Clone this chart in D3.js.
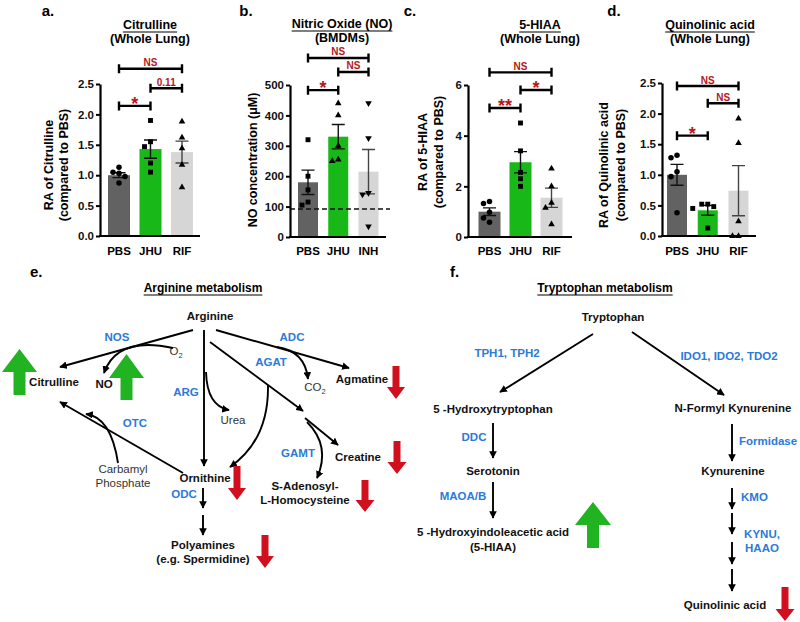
<!DOCTYPE html>
<html>
<head>
<meta charset="utf-8">
<script src="https://cdn.jsdelivr.net/npm/d3@7"></script>
<style>
  body { margin: 0; background: #fff; }
  svg { font-family: Arial, "Liberation Sans", Helvetica, sans-serif; }
</style>
</head>
<body>
<svg id="fig" width="800" height="622"></svg>
<script>
// ---------- data ----------
const citrullineGroups = ['PBS', 'JHU', 'RIF'];
const citrullineMean = [1.0, 1.43, 1.38];
const citrullineSem = [0.04, 0.15, 0.18];
const citrullinePoints = [
  [1.13, 1.05, 1.03, 0.98, 0.87],
  [1.9, 1.55, 1.47, 1.2, 1.05],
  [1.88, 1.62, 1.44, 1.17, 0.8]
];
const citrullineTicks = [0, 0.5, 1.0, 1.5, 2.0, 2.5];
const citrullineSig = [
  { from: 0, to: 1, at: 2.14, text: '*' },
  { from: 1, to: 2, at: 2.43, text: '0.11' },
  { from: 0, to: 2, at: 2.75, text: 'NS' }
];

const noGroups = ['PBS', 'JHU', 'INH'];
const noMean = [180, 330, 215];
const noSem = [40, 40, 73];
const noPoints = [
  [320, 200, 155, 115, 105],
  [440, 400, 300, 255, 250],
  [440, 325, 145, 140, 35]
];
const noTicks = [0, 100, 200, 300, 400, 500];
const noBaseline = 92;
const noSig = [
  { from: 0, to: 1, at: 483, text: '*' },
  { from: 1, to: 2, at: 543, text: 'NS' },
  { from: 0, to: 2, at: 589, text: 'NS' }
];

const hiaaGroups = ['PBS', 'JHU', 'RIF'];
const hiaaMean = [1.0, 2.95, 1.55];
const hiaaSem = [0.15, 0.42, 0.38];
const hiaaPoints = [
  [1.4, 1.32, 0.98, 0.75, 0.58],
  [4.5, 3.4, 2.55, 2.3, 2.0],
  [2.7, 2.0, 1.35, 1.15, 0.5]
];
const hiaaTicks = [0, 2, 4, 6];
const hiaaSig = [
  { from: 0, to: 1, at: 5.09, text: '**' },
  { from: 1, to: 2, at: 5.8, text: '*' },
  { from: 0, to: 2, at: 6.5, text: 'NS' }
];

const quinGroups = ['PBS', 'JHU', 'RIF'];
const quinMean = [1.0, 0.42, 0.74];
const quinSem = [0.17, 0.08, 0.41];
const quinPoints = [
  [1.32, 1.28, 1.05, 0.97, 0.38],
  [0.52, 0.52, 0.48, 0.45, 0.13],
  [1.92, 1.52, 0.24, 0.0, 0.0]
];
const quinTicks = [0, 0.5, 1.0, 1.5, 2.0, 2.5];
const quinSig = [
  { from: 0, to: 1, at: 1.64, text: '*' },
  { from: 1, to: 2, at: 2.17, text: 'NS' },
  { from: 0, to: 2, at: 2.45, text: 'NS' }
];

// ---------- styles ----------
const barColors = ['#626262', '#17b817', '#d6d6d6'];
const sigRed = '#b3191c';
const enzBlue = '#2b7ad9';
const upGreen = '#22b322';
const downRed = '#d0101e';

const svg = d3.select('#fig');

// ---------- bar panels ----------
const panels = [
  { tag: 'a.', tagX: 48, title: ['Citrulline', '(Whole Lung)'], titleX: 150, titleY: 29,
    yTitle: ['RA of Citrulline', '(compared to PBS)'], yTitleX: [48, 63], yTitleY: 165,
    groups: citrullineGroups, mean: citrullineMean, sem: citrullineSem, points: citrullinePoints,
    ticks: citrullineTicks, fmt: d3.format('.1f'), sig: citrullineSig, max: 2.5,
    axisX: 100, axisEnd: 200, bottom: 236, top: 84, first: 119, last: 182, barW: 22,
    shapes: ['circle', 'square', 'up'] },
  { tag: 'b.', tagX: 246, title: ['Nitric Oxide (NO)', '(BMDMs)'], titleX: 342, titleY: 28,
    yTitle: ['NO concentration (\u03bcM)'], yTitleX: [252], yTitleY: 160,
    groups: noGroups, mean: noMean, sem: noSem, points: noPoints,
    ticks: noTicks, fmt: d3.format('d'), sig: noSig, max: 500, dashed: noBaseline, dashEnd: 390,
    axisX: 290, axisEnd: 386, bottom: 237, top: 85, first: 308, last: 368.5, barW: 20,
    shapes: ['square', 'up', 'down'] },
  { tag: 'c.', tagX: 410, title: ['5-HIAA', '(Whole Lung)'], titleX: 540, titleY: 29,
    yTitle: ['RA of 5-HIAA', '(compared to PBS)'], yTitleX: [422, 438], yTitleY: 152,
    groups: hiaaGroups, mean: hiaaMean, sem: hiaaSem, points: hiaaPoints,
    ticks: hiaaTicks, fmt: d3.format('d'), sig: hiaaSig, max: 6,
    axisX: 468, axisEnd: 572, bottom: 237, top: 85, first: 489.5, last: 551.5, barW: 22,
    shapes: ['circle', 'square', 'up'] },
  { tag: 'd.', tagX: 614, title: ['Quinolinic acid', '(Whole Lung)'], titleX: 710, titleY: 29,
    yTitle: ['RA of Quinolinic acid', '(compared to PBS)'], yTitleX: [603, 620], yTitleY: 165,
    groups: quinGroups, mean: quinMean, sem: quinSem, points: quinPoints,
    ticks: quinTicks, fmt: d3.format('.1f'), sig: quinSig, max: 2.5,
    axisX: 662, axisEnd: 756, bottom: 236, top: 83, first: 677, last: 738.5, barW: 20,
    shapes: ['circle', 'square', 'up'] }
];

function markerPath(shape) {
  if (shape === 'circle') return d3.symbol(d3.symbolCircle, 24)();
  if (shape === 'square') return d3.symbol(d3.symbolSquare, 24)();
  return d3.symbol(d3.symbolTriangle, 19)();
}

function drawPanel(p) {
  const g = svg.append('g');
  const y = d3.scaleLinear().domain([0, p.max]).range([p.bottom, p.top]);
  const x = d3.scalePoint().domain(p.groups).range([p.first, p.last]);

  // panel tag + title
  g.append('text').attr('x', p.tagX).attr('y', 16).attr('text-anchor', 'middle')
    .attr('font-size', 15).attr('font-weight', 'bold').text(p.tag);
  const t1 = g.append('text').attr('x', p.titleX).attr('y', p.titleY).attr('text-anchor', 'middle')
    .attr('font-size', 12.5).attr('font-weight', 'bold').text(p.title[0]);
  const w1 = t1.node().getComputedTextLength();
  g.append('line').attr('x1', p.titleX - w1 / 2).attr('x2', p.titleX + w1 / 2)
    .attr('y1', p.titleY + 3).attr('y2', p.titleY + 3).attr('stroke', '#000').attr('stroke-width', 1.2);
  g.append('text').attr('x', p.titleX).attr('y', p.titleY + 13.5).attr('text-anchor', 'middle')
    .attr('font-size', 12.5).attr('font-weight', 'bold').text(p.title[1]);

  // y title
  p.yTitle.forEach((s, i) => {
    g.append('text')
      .attr('transform', 'translate(' + (p.yTitleX[i] + 4.5) + ',' + p.yTitleY + ') rotate(-90)')
      .attr('text-anchor', 'middle').attr('font-size', 12.5).attr('font-weight', 'bold').text(s);
  });

  // bars
  g.selectAll('.bar').data(p.groups).enter().append('rect')
    .attr('x', d => x(d) - p.barW / 2).attr('width', p.barW)
    .attr('y', (d, i) => y(p.mean[i])).attr('height', (d, i) => p.bottom - y(p.mean[i]))
    .attr('fill', (d, i) => barColors[i]);

  // dashed reference line
  if (p.dashed !== undefined) {
    g.append('line').attr('x1', p.axisX).attr('x2', p.dashEnd)
      .attr('y1', y(p.dashed)).attr('y2', y(p.dashed))
      .attr('stroke', '#111').attr('stroke-width', 1.5).attr('stroke-dasharray', '5,3');
  }

  // error bars
  p.groups.forEach((grp, i) => {
    const cx = x(grp), hi = y(p.mean[i] + p.sem[i]), lo = y(p.mean[i] - p.sem[i]);
    const col = i === 2 ? '#444' : '#111';
    g.append('path').attr('d', 'M' + cx + ',' + hi + 'V' + lo + 'M' + (cx - 6.5) + ',' + hi + 'H' + (cx + 6.5) +
      'M' + (cx - 6.5) + ',' + lo + 'H' + (cx + 6.5))
      .attr('stroke', col).attr('stroke-width', 1.4).attr('fill', 'none');
  });

  // points, spread sideways when they overlap
  p.groups.forEach((grp, i) => {
    const placed = [];
    p.points[i].forEach(v => {
      const py = y(v);
      const offs = [0, -6, 6, -11, 11, -15, 15];
      let off = 0;
      for (const o of offs) {
        if (placed.every(q => Math.abs(q.py - py) >= 6 || Math.abs(q.off - o) >= 6)) { off = o; break; }
      }
      placed.push({ py, off });
      const rot = p.shapes[i] === 'down' ? ' rotate(180)' : '';
      g.append('path').attr('d', markerPath(p.shapes[i]))
        .attr('transform', 'translate(' + (x(grp) + off) + ',' + py + ')' + rot)
        .attr('fill', '#000');
    });
  });

  // axes
  const ya = g.append('g').attr('transform', 'translate(' + p.axisX + ',0)')
    .call(d3.axisLeft(y).tickValues(p.ticks).tickFormat(p.fmt).tickSize(4).tickSizeOuter(0).tickPadding(2));
  ya.select('.domain').attr('stroke-width', 2.2);
  ya.selectAll('.tick line').attr('stroke-width', 2);
  ya.selectAll('.tick text').attr('font-size', 11.5).attr('font-weight', 'bold')
    .attr('font-family', 'Arial, "Liberation Sans", sans-serif').attr('fill', '#111');

  g.append('line').attr('x1', p.axisX - 1).attr('x2', p.axisEnd)
    .attr('y1', p.bottom).attr('y2', p.bottom).attr('stroke', '#000').attr('stroke-width', 2.2);
  g.selectAll('.cat').data(p.groups).enter().append('text')
    .attr('x', d => x(d)).attr('y', 255).attr('text-anchor', 'middle')
    .attr('font-size', 11.5).attr('font-weight', 'bold').text(d => d);

  // significance brackets
  p.sig.forEach(s => {
    const x1 = x(p.groups[s.from]), x2 = x(p.groups[s.to]), yy = y(s.at);
    g.append('path').attr('d', 'M' + x1 + ',' + (yy - 4.5) + 'V' + (yy + 4.5) + 'M' + x1 + ',' + yy + 'H' + x2 +
      'M' + x2 + ',' + (yy - 4.5) + 'V' + (yy + 4.5))
      .attr('stroke', '#000').attr('stroke-width', 2.4).attr('fill', 'none');
    const star = s.text.indexOf('*') >= 0;
    g.append('text').attr('x', (x1 + x2) / 2).attr('y', star ? yy + 4 : yy - 2.5)
      .attr('text-anchor', 'middle').attr('font-weight', 'bold')
      .attr('font-size', star ? 18 : 10).attr('fill', sigRed).text(s.text);
  });
}

panels.forEach(drawPanel);

// ---------- pathway diagrams ----------
const defs = svg.append('defs');
defs.append('marker').attr('id', 'head').attr('viewBox', '0 0 10 10')
  .attr('refX', 9).attr('refY', 5).attr('markerWidth', 4).attr('markerHeight', 4)
  .attr('markerUnits', 'strokeWidth').attr('orient', 'auto')
  .append('path').attr('d', 'M0,0 L10,5 L0,10 z').attr('fill', '#000');

// label layout: [text, x, y, kind, anchor]
const pathLabels = [
  ['e.', 30, 277, 'tag'], ['f.', 450, 277, 'tag'],
  ['Arginine metabolism', 203, 292, 'title'], ['Tryptophan metabolism', 605, 292, 'title'],
  ['Arginine', 210, 320, 'node'], ['Citrulline', 54, 386, 'node'], ['NO', 104, 388, 'node'],
  ['Ornithine', 205, 482, 'node'], ['Polyamines', 203, 549, 'node'], ['(e.g. Spermidine)', 203, 563, 'node'],
  ['Agmatine', 362, 383, 'node'], ['Creatine', 358, 461, 'node'],
  ['S-Adenosyl-', 305, 490, 'node'], ['L-Homocysteine', 305, 504, 'node'],
  ['Urea', 233, 424, 'plain'], ['Carbamyl', 123, 473, 'plain'], ['Phosphate', 123, 487, 'plain'],
  ['NOS', 117, 341, 'enz'], ['ARG', 186, 396, 'enz'], ['OTC', 135, 427, 'enz'], ['ODC', 184, 498, 'enz'],
  ['ADC', 292, 341, 'enz'], ['AGAT', 271, 366, 'enz'], ['GAMT', 298, 457, 'enz'],
  ['Tryptophan', 613, 321, 'node'], ['5 -Hydroxytryptophan', 493, 413, 'node'],
  ['N-Formyl Kynurenine', 733, 412, 'node'], ['Serotonin', 493, 475, 'node'],
  ['5 -Hydroxyindoleacetic acid', 493, 536, 'node'], ['(5-HIAA)', 493, 551, 'node'],
  ['Kynurenine', 733, 475, 'node'], ['Quinolinic acid', 725, 609, 'node'],
  ['TPH1, TPH2', 507, 357, 'enz'], ['IDO1, IDO2, TDO2', 729, 360, 'enz'],
  ['DDC', 474, 441, 'enz'], ['MAOA/B', 463, 500, 'enz'],
  ['Formidase', 739, 445, 'enz', 'start'], ['KMO', 741, 501, 'enz', 'start'],
  ['KYNU,', 762, 538, 'enz'], ['HAAO', 762, 552, 'enz']
];

pathLabels.forEach(([s, px, py, kind, anchor]) => {
  const t = svg.append('text').attr('x', px).attr('y', py)
    .attr('text-anchor', anchor || 'middle').text(s);
  if (kind === 'tag') t.attr('font-size', 15).attr('font-weight', 'bold').attr('text-anchor', 'start');
  else if (kind === 'title') {
    t.attr('font-size', 12).attr('font-weight', 'bold');
    const w = t.node().getComputedTextLength();
    svg.append('line').attr('x1', px - w / 2).attr('x2', px + w / 2).attr('y1', py + 3).attr('y2', py + 3)
      .attr('stroke', '#000').attr('stroke-width', 1.1);
  } else if (kind === 'node') t.attr('font-size', 11.5).attr('font-weight', 'bold').attr('fill', '#111');
  else if (kind === 'enz') t.attr('font-size', 11.5).attr('font-weight', 'bold').attr('fill', enzBlue);
  else t.attr('font-size', 11.5).attr('fill', '#333');
});

// chemical formulas with subscripts
[['O', 176, 355], ['CO', 315, 391]].forEach(([s, px, py]) => {
  const t = svg.append('text').attr('x', px).attr('y', py).attr('text-anchor', 'middle')
    .attr('font-size', 11.5).attr('fill', '#333').text(s);
  t.append('tspan').attr('dy', 3).attr('font-size', 7.5).text('2');
});

// reaction arrows (all end with an arrow head)
const reactions = [
  'M193,330 L60,367',
  'M173,348 Q117,336 104,373',
  'M204,330 L204,466',
  'M206,372 Q207,406 229,410',
  'M216,330 L349,368',
  'M277,347 Q305,351 308,379',
  'M210,342 L303,411',
  'M305,418 L338,445',
  'M307,422 Q331,446 317,478',
  'M268,385 Q269,440 230,467',
  'M183,473 L60,402',
  'M118,463 Q111,417 86,414',
  'M203,488 L203,508',
  'M203,515 L203,535',
  'M593,334 L500,392',
  'M632,332 L724,395',
  'M493,423 L493,458',
  'M493,482 L493,518',
  'M732,424 L732,461',
  'M732,488 L732,509',
  'M732,513 L732,534',
  'M732,542 L732,564',
  'M732,569 L732,591'
];
svg.selectAll('.rx').data(reactions).enter().append('path')
  .attr('d', d => d).attr('fill', 'none').attr('stroke', '#000').attr('stroke-width', 1.9)
  .attr('marker-end', 'url(#head)');

// fold-change arrows: [centre x, top, bottom, direction, head width, shaft width, head length]
const foldArrows = [
  [19.5, 349, 395, 'up', 35, 12, 23],
  [126.5, 354, 400, 'up', 35, 12, 24],
  [593, 502, 548, 'up', 36, 12, 23],
  [237, 466, 500, 'down', 18, 7, 12],
  [396, 366, 399, 'down', 18, 7, 12],
  [397, 441, 474, 'down', 19, 7, 12],
  [365, 480, 512, 'down', 19, 7, 12],
  [265, 535, 568, 'down', 18, 7, 12],
  [785, 587, 621, 'down', 19, 7, 12]
];
foldArrows.forEach(([cx, top, bot, dir, hw, sw, hl]) => {
  let pts;
  if (dir === 'up') {
    pts = [[cx, top], [cx + hw / 2, top + hl], [cx + sw / 2, top + hl], [cx + sw / 2, bot],
      [cx - sw / 2, bot], [cx - sw / 2, top + hl], [cx - hw / 2, top + hl]];
  } else {
    pts = [[cx, bot], [cx + hw / 2, bot - hl], [cx + sw / 2, bot - hl], [cx + sw / 2, top],
      [cx - sw / 2, top], [cx - sw / 2, bot - hl], [cx - hw / 2, bot - hl]];
  }
  svg.append('polygon').attr('points', pts.map(q => q.join(',')).join(' '))
    .attr('fill', dir === 'up' ? upGreen : downRed);
});
</script>
</body>
</html>
